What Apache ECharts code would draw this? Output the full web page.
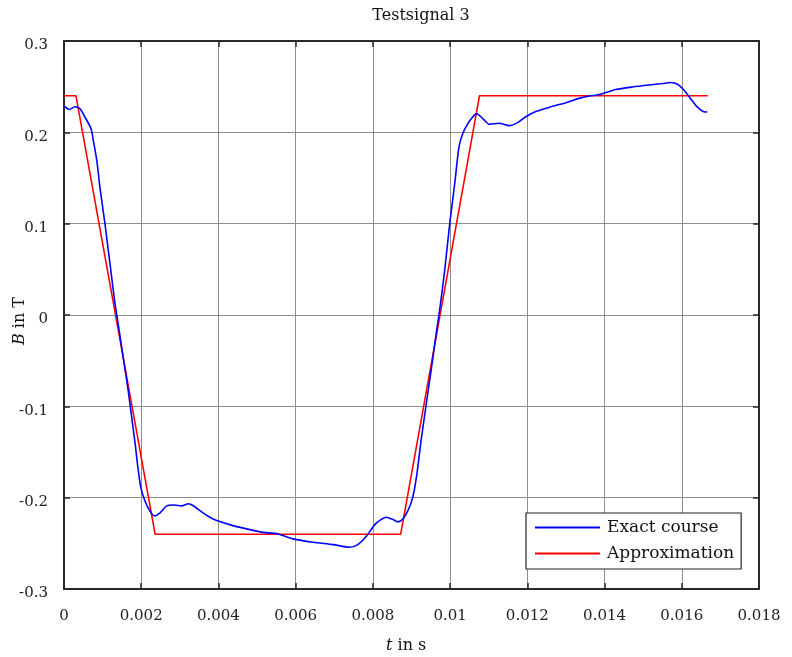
<!DOCTYPE html>
<html>
<head>
<meta charset="utf-8">
<script src="https://cdn.jsdelivr.net/npm/echarts@6/dist/echarts.min.js"></script>
<style>
html,body{margin:0;padding:0;background:#fff;}
#c{width:792px;height:657px;}
</style>
</head>
<body>
<div id="c"></div>
<script>
// ---- data ----
var xTickLabels = ['0','0.002','0.004','0.006','0.008','0.01','0.012','0.014','0.016','0.018'];
var yTickLabels = ['-0.3','-0.2','-0.1','0','0.1','0.2','0.3'];

var exactT = [0.00000,0.00014,0.00028,0.00041,0.00054,0.00070,0.00076,0.00085,0.00093,0.00106,0.00119,0.00132,0.00140,0.00153,0.00166,0.00175,0.00184,0.00192,0.00199,0.00210,0.00223,0.00235,0.00248,0.00266,0.00285,0.00305,0.00322,0.00335,0.00360,0.00386,0.00429,0.00473,0.00516,0.00550,0.00593,0.00645,0.00697,0.00740,0.00761,0.00783,0.00805,0.00818,0.00835,0.00852,0.00865,0.00878,0.00891,0.00903,0.00913,0.00925,0.00938,0.00951,0.00964,0.00973,0.00986,0.00999,0.01012,0.01023,0.01033,0.01046,0.01059,0.01068,0.01084,0.01102,0.01127,0.01153,0.01175,0.01196,0.01222,0.01257,0.01300,0.01334,0.01360,0.01386,0.01429,0.01472,0.01515,0.01550,0.01571,0.01589,0.01606,0.01623,0.01640,0.01660,0.01666];
var exactB = [0.229,0.225,0.228,0.226,0.217,0.204,0.191,0.169,0.140,0.100,0.0565,0.0128,-0.009,-0.0456,-0.082,-0.111,-0.140,-0.169,-0.189,-0.204,-0.215,-0.220,-0.217,-0.209,-0.208,-0.209,-0.2066,-0.2088,-0.2167,-0.2233,-0.2295,-0.2342,-0.2380,-0.2393,-0.2451,-0.2489,-0.2514,-0.2543,-0.2514,-0.2423,-0.2295,-0.2248,-0.2215,-0.2240,-0.2265,-0.2230,-0.2140,-0.2000,-0.177,-0.137,-0.098,-0.060,-0.020,0.0055,0.049,0.100,0.144,0.184,0.199,0.2095,0.217,0.2205,0.2154,0.2088,0.2099,0.2073,0.2106,0.2171,0.2227,0.2274,0.2325,0.2372,0.2397,0.2414,0.2468,0.2497,0.2519,0.2534,0.2545,0.2526,0.2460,0.2369,0.2278,0.2222,0.2226];

var approxT = [0, 0.00031, 0.00236, 0.00872, 0.01076, 0.01667];
var approxB = [0.24, 0.24, -0.24, -0.24, 0.24, 0.24];

function zip(a, b){ var r=[]; for(var i=0;i<a.length;i++) r.push([a[i], b[i]]); return r; }

var FONT = '"DejaVu Serif", "Liberation Serif", serif';
var axisColor = '#2a2a2a';
var gridColor = '#8e8e8e';

var chart = echarts.init(document.getElementById('c'), null, {renderer:'canvas'});
var option = {
  animation: false,
  backgroundColor: '#ffffff',
  title: {
    text: 'Testsignal 3',
    left: 416, top: 3, textAlign: 'center',
    textStyle: {fontFamily: FONT, fontSize: 16, fontWeight: 'normal', color: '#111'}
  },
  grid: {left: 64, right: 33, top: 41, bottom: 68, containLabel: false},
  xAxis: [{
    type: 'value', min: 0, max: 0.018, interval: 0.002, position: 'bottom',
    axisLine: {show: true, onZero: false, lineStyle: {color: axisColor, width: 2}},
    axisTick: {show: true, inside: true, length: 6, lineStyle: {color: axisColor, width: 1.5}},
    splitLine: {show: true, lineStyle: {color: gridColor, width: 1}},
    axisLabel: {
      margin: 20, fontFamily: FONT, fontSize: 15, color: '#222',
      formatter: function(v){ return xTickLabels[Math.round(v/0.002)]; }
    }
  },{
    type: 'value', min: 0, max: 0.018, interval: 0.002, position: 'top',
    axisLine: {show: true, onZero: false, lineStyle: {color: axisColor, width: 2}},
    axisTick: {show: true, inside: true, length: 6, lineStyle: {color: axisColor, width: 1.5}},
    splitLine: {show: false}, axisLabel: {show: false}
  }],
  yAxis: [{
    type: 'value', min: -0.3, max: 0.3, interval: 0.1, position: 'left',
    axisLine: {show: true, onZero: false, lineStyle: {color: axisColor, width: 2}},
    axisTick: {show: true, inside: true, length: 6, lineStyle: {color: axisColor, width: 1.5}},
    splitLine: {show: true, lineStyle: {color: gridColor, width: 1}},
    axisLabel: {
      margin: 16, fontFamily: FONT, fontSize: 15, color: '#222',
      formatter: function(v){ return '{a|' + yTickLabels[Math.round((v+0.3)/0.1)] + '}'; },
      rich: {a: {fontFamily: FONT, fontSize: 15, color: '#222', padding: [9, 0, 0, 0]}}
    }
  },{
    type: 'value', min: -0.3, max: 0.3, interval: 0.1, position: 'right',
    axisLine: {show: true, onZero: false, lineStyle: {color: axisColor, width: 2}},
    axisTick: {show: true, inside: true, length: 6, lineStyle: {color: axisColor, width: 1.5}},
    splitLine: {show: false}, axisLabel: {show: false}
  }],
  legend: {
    orient: 'vertical',
    left: 526, top: 513,
    padding: [6, 7, 7, 9],
    itemGap: 9,
    itemWidth: 65, itemHeight: 17,
    backgroundColor: '#fff',
    borderColor: '#222', borderWidth: 1.2, borderRadius: 0,
    textStyle: {fontFamily: FONT, fontSize: 17, color: '#111', padding: [0,0,0,2]},
    data: [{name: 'Exact course', icon: 'path://M0,7.5 L65,7.5 L65,9.5 L0,9.5 Z'}, {name: 'Approximation', icon: 'path://M0,7.5 L65,7.5 L65,9.5 L0,9.5 Z'}]
  },
  graphic: [
    {
      type: 'text', left: 386, top: 638,
      style: {
        text: '{i|t} in s',
        font: '16px ' + FONT,
        fill: '#111',
        rich: {i: {fontStyle: 'italic', fontFamily: FONT, fontSize: 16}}
      }
    },
    {
      type: 'text', x: 12, y: 345, rotation: Math.PI/2,
      style: {
        text: '{i|B} in T',
        font: '16px ' + FONT,
        fill: '#111',
        rich: {i: {fontStyle: 'italic', fontFamily: FONT, fontSize: 16}}
      }
    }
  ],
  series: [
    {
      name: 'Exact course', type: 'line', xAxisIndex: 0, yAxisIndex: 0,
      data: zip(exactT, exactB), showSymbol: false, symbol: 'none', smooth: 0.25,
      lineStyle: {color: '#0000ff', width: 1.6}, itemStyle: {color: '#0000ff'}, z: 3
    },
    {
      name: 'Approximation', type: 'line', xAxisIndex: 0, yAxisIndex: 0,
      data: zip(approxT, approxB), showSymbol: false, symbol: 'none',
      lineStyle: {color: '#ff0000', width: 1.6}, itemStyle: {color: '#ff0000'}, z: 2
    }
  ]
};
chart.setOption(option);
</script>
</body>
</html>
